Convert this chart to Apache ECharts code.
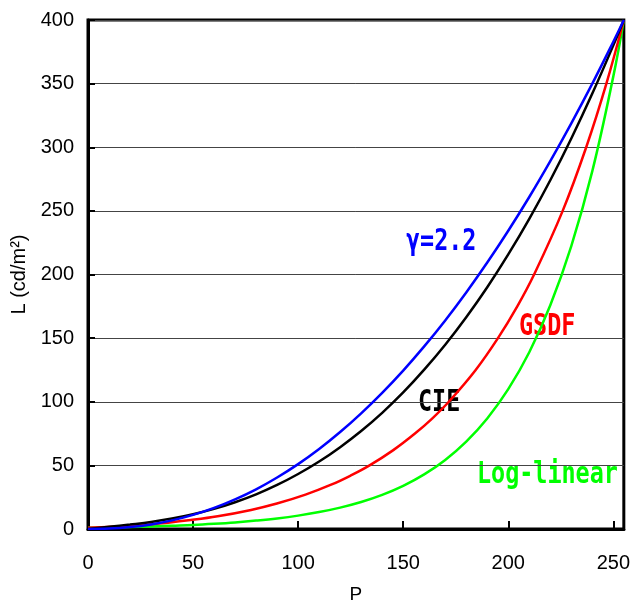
<!DOCTYPE html>
<html>
<head>
<meta charset="utf-8">
<script src="https://cdn.jsdelivr.net/npm/echarts@6/dist/echarts.min.js"></script>
<style>
html, body { margin: 0; padding: 0; background: #fff; }
#main { width: 633px; height: 609px; }
</style>
</head>
<body>
<div id="main"></div>
<script>
// 横軸 P と各曲線の輝度 L (cd/m2)
var pValues = [0, 10, 20, 30, 40, 50, 60, 70, 80, 90, 100, 110, 120, 130, 140, 150, 160, 170, 180, 190, 200, 210, 220, 230, 240, 250, 255];
var gammaL  = [0, 0.3, 1.5, 3.6, 6.8, 11.1, 16.6, 23.3, 31.2, 40.5, 51.0, 62.9, 76.2, 90.9, 107.0, 124.5, 143.5, 163.9, 185.9, 209.4, 234.4, 260.9, 289.1, 318.8, 350.0, 382.9, 400];
var cieL    = [0, 1.7, 3.5, 5.5, 8.2, 11.6, 15.8, 21.0, 27.2, 34.6, 43.2, 53.0, 64.3, 77.0, 91.3, 107.3, 125.2, 144.8, 166.4, 190.0, 215.8, 243.8, 274.1, 306.9, 342.2, 380.1, 400];
var logL    = [1.0, 1.3, 1.6, 2.0, 2.6, 3.2, 4.1, 5.2, 6.6, 8.3, 10.5, 13.3, 16.8, 21.2, 26.8, 33.9, 42.9, 54.3, 68.7, 86.9, 109.9, 138.9, 175.8, 222.3, 281.2, 355.7, 400];
// GSDF は輝度ごとに P を読む
var gsdfP   = [0, 13.8, 23.6, 38.1, 48.9, 61.7, 77.6, 89.9, 103.5, 116.0, 125.0, 134.0, 145.3, 155.6, 163.9, 171.7, 184.5, 195.1, 204.3, 212.3, 225.9, 237.1, 246.7, 255];
var gsdfL   = [1, 2, 3, 5, 7, 10, 15, 20, 27, 35, 42, 50, 62, 75, 87, 100, 125, 150, 175, 200, 250, 300, 350, 400];

function pairs(xs, ys) {
    var out = [];
    for (var i = 0; i < xs.length; i++) out.push([xs[i], ys[i]]);
    return out;
}

var dom = document.getElementById('main');
var myChart = echarts.init(dom);

var labelFont = '"Liberation Sans", Arial, sans-serif';
var tagFont = '"DejaVu Sans Mono", monospace';

function tag(text, x, y, color) {
    return {
        type: 'text',
        x: x, y: y,
        scaleX: 0.78,
        style: {
            text: text,
            fill: color,
            font: 'bold 30px ' + tagFont,
            verticalAlign: 'middle'
        }
    };
}

var option = {
    animation: false,
    grid: {
        left: 88, right: 8, top: 20, bottom: 76,
        show: true,
        borderColor: '#000',
        borderWidth: 3,
        backgroundColor: '#fff'
    },
    xAxis: {
        type: 'value',
        min: 0, max: 255, interval: 50,
        name: 'P',
        nameLocation: 'middle',
        nameGap: 56,
        nameTextStyle: { fontFamily: labelFont, fontSize: 19, color: '#000' },
        axisLine: { show: true, lineStyle: { color: '#000', width: 3 } },
        axisTick: { show: true, inside: true, length: 8, lineStyle: { color: '#000', width: 2 } },
        axisLabel: { fontFamily: labelFont, fontSize: 20, color: '#000', margin: 24 },
        splitLine: { show: false }
    },
    yAxis: {
        type: 'value',
        min: 0, max: 400, interval: 50,
        name: 'L (cd/m²)',
        nameLocation: 'middle',
        nameGap: 58,
        nameTextStyle: { fontFamily: labelFont, fontSize: 20, color: '#000' },
        axisLine: { show: true, lineStyle: { color: '#000', width: 3 } },
        axisTick: { show: true, inside: true, length: 7, lineStyle: { color: '#000', width: 2 } },
        axisLabel: { fontFamily: labelFont, fontSize: 20, color: '#000', margin: 14 },
        splitLine: { show: true, lineStyle: { color: '#444', width: 1 } }
    },
    series: [
        {
            name: 'Log-linear', type: 'line', showSymbol: false, smooth: 0.4,
            lineStyle: { color: '#00ff00', width: 2.5 },
            data: pairs(pValues, logL)
        },
        {
            name: 'GSDF', type: 'line', showSymbol: false, smooth: 0.4,
            lineStyle: { color: '#ff0000', width: 2.5 },
            data: pairs(gsdfP, gsdfL)
        },
        {
            name: 'CIE', type: 'line', showSymbol: false, smooth: 0.4,
            lineStyle: { color: '#000000', width: 2.5 },
            data: pairs(pValues, cieL)
        },
        {
            name: 'γ=2.2', type: 'line', showSymbol: false, smooth: 0.4,
            lineStyle: { color: '#0000ff', width: 2.5 },
            data: pairs(pValues, gammaL)
        }
    ],
    graphic: [
        tag('γ=2.2', 406, 242, '#0000ff'),
        tag('CIE', 418, 403, '#000000'),
        tag('GSDF', 519, 327, '#ff0000'),
        tag('Log-linear', 477, 475, '#00ff00')
    ]
};
myChart.setOption(option);
</script>
</body>
</html>
